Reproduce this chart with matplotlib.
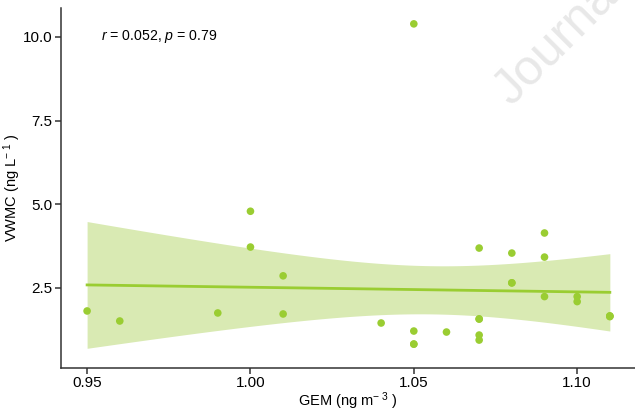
import numpy as np
import matplotlib
matplotlib.use("Agg")
import matplotlib.pyplot as plt

plt.rcParams['font.family'] = ['Liberation Sans', 'DejaVu Sans']
plt.rcParams['mathtext.fontset'] = 'custom'
plt.rcParams['mathtext.rm'] = 'Liberation Sans'
plt.rcParams['mathtext.it'] = 'Liberation Sans:italic'

# GEM (ng m-3) vs VWMC (ng L-1)
# (a few points sit exactly on top of each other; n ~ 29 from the r / p values)
gem = [0.95, 0.96, 0.99, 1.00, 1.00, 1.01, 1.01, 1.04, 1.05, 1.05, 1.05, 1.05, 1.06,
       1.07, 1.07, 1.07, 1.07, 1.07, 1.08, 1.08, 1.08, 1.09, 1.09, 1.09, 1.10, 1.10,
       1.11, 1.11, 1.11]
vwmc = [1.81, 1.51, 1.75, 4.79, 3.72, 2.86, 1.72, 1.45, 10.39, 1.21, 0.82, 0.82, 1.18,
        3.69, 1.57, 1.57, 1.09, 0.94, 3.54, 2.65, 2.65, 4.14, 3.42, 2.24, 2.24, 2.09,
        1.66, 1.66, 1.64]

green = '#9acd32'
band = '#d9eab3'

x = np.array(gem)
y = np.array(vwmc)
n = len(x)

# linear fit with 95% confidence band (like geom_smooth(method = "lm"))
b, a = np.polyfit(x, y, 1)
xs = np.linspace(x.min(), x.max(), 100)
ys = a + b * xs
resid = y - (a + b * x)
s = np.sqrt(np.sum(resid ** 2) / (n - 2))
se = s * np.sqrt(1 / n + (xs - x.mean()) ** 2 / np.sum((x - x.mean()) ** 2))
t = 2.052  # t(0.975, df=27)

fig = plt.figure(figsize=(6.35, 4.11), dpi=100)
ax = fig.add_axes([0.096, 0.105, 0.904, 0.876])

ax.fill_between(xs, ys - t * se, ys + t * se, color=band, lw=0, zorder=1)
ax.plot(xs, ys, color=green, lw=2, zorder=2)
ax.scatter(x, y, s=30, color=green, edgecolors='none', zorder=3)

ax.set_xlim(0.942, 1.1177)
ax.set_ylim(0.11, 10.87)
ax.set_xticks([0.95, 1.00, 1.05, 1.10])
ax.set_xticklabels(['0.95', '1.00', '1.05', '1.10'])
ax.set_yticks([2.5, 5.0, 7.5, 10.0])
ax.set_yticklabels(['2.5', '5.0', '7.5', '10.0'])

for side in ['top', 'right']:
    ax.spines[side].set_visible(False)
for side in ['left', 'bottom']:
    ax.spines[side].set_linewidth(1.1)
    ax.spines[side].set_color('#333333')
ax.tick_params(length=4, width=1.1, color='#333333', labelsize=11,
               labelcolor='black', pad=2)

ax.set_xlabel(r'GEM (ng m$^{-\ 3}$ )', fontsize=10.5, labelpad=0)
ax.set_ylabel(r'VWMC (ng L$^{-\ 1}$ )', fontsize=10.5, labelpad=0)

ax.text(0.9543, 10.0, r'$r$ = 0.052, $p$ = 0.79', fontsize=10.2, va='center', ha='left')

# watermark
fig.text(0.805, 0.74, 'Journal', fontsize=36, color='#e8e8e8',
         rotation=45, rotation_mode='anchor', ha='left', va='baseline', zorder=0)

fig.savefig('out.png', dpi=100)
